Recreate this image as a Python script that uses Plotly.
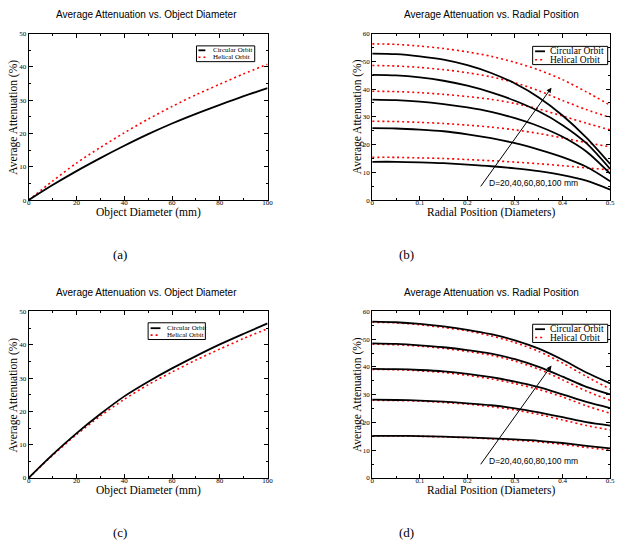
import plotly.graph_objects as go

# ---------------- data ----------------
diameter_mm = [0, 10, 20, 30, 40, 50, 60, 70, 80, 90, 100]
a_circular = [0, 4.5, 8.7, 12.6, 16.3, 19.8, 23.0, 25.9, 28.6, 31.2, 33.6]
a_helical = [0, 5.7, 11.1, 15.8, 20.2, 24.3, 28.1, 31.6, 34.8, 37.9, 40.8]
c_circular = [0, 7.0, 13.4, 19.2, 24.5, 28.9, 32.9, 36.6, 40.1, 43.3, 46.4]
c_helical = [0, 6.8, 13.0, 18.6, 23.6, 28.0, 31.8, 35.4, 38.7, 41.9, 44.8]

radial_pos = [0, 0.05, 0.1, 0.15, 0.2, 0.25, 0.3, 0.35, 0.4, 0.45, 0.5]
b_circular = {
    "D=20": [13.8, 13.8, 13.6, 13.3, 12.8, 12.2, 11.4, 10.4, 9.0, 7.0, 3.8],
    "D=40": [25.9, 25.8, 25.4, 24.8, 23.7, 22.3, 20.5, 18.2, 15.5, 12.0, 6.8],
    "D=60": [36.2, 36.0, 35.5, 34.6, 33.4, 31.8, 29.5, 26.6, 22.8, 17.5, 9.5],
    "D=80": [45.1, 44.9, 44.2, 43.0, 41.2, 38.8, 35.8, 32.0, 27.0, 20.5, 11.2],
    "D=100": [52.8, 52.6, 51.8, 50.6, 48.6, 45.8, 42.0, 37.0, 30.5, 22.5, 13.0],
}
b_helical = {
    "D=20": [15.4, 15.4, 15.2, 15.0, 14.6, 14.2, 13.7, 13.1, 12.4, 11.6, 10.9],
    "D=40": [28.4, 28.3, 28.0, 27.6, 27.0, 26.3, 25.3, 24.0, 22.4, 20.7, 19.2],
    "D=60": [39.2, 39.1, 38.7, 38.1, 37.3, 36.3, 34.8, 32.8, 30.3, 27.7, 25.3],
    "D=80": [48.5, 48.3, 47.8, 47.0, 45.9, 44.4, 42.3, 39.4, 35.9, 32.6, 29.8],
    "D=100": [56.3, 56.1, 55.5, 54.6, 53.4, 51.8, 49.6, 46.9, 43.4, 39.0, 34.2],
}
d_circular = {
    "D=20": [15.2, 15.2, 15.1, 14.9, 14.6, 14.3, 13.9, 13.4, 12.6, 11.6, 10.7],
    "D=40": [28.2, 28.1, 27.9, 27.5, 26.9, 26.2, 25.1, 23.6, 21.9, 20.1, 18.9],
    "D=60": [39.3, 39.2, 38.9, 38.4, 37.5, 36.3, 34.7, 32.7, 30.1, 27.4, 25.2],
    "D=80": [48.5, 48.3, 47.8, 47.1, 46.1, 44.8, 42.8, 40.0, 36.5, 32.8, 30.1],
    "D=100": [56.3, 56.1, 55.5, 54.6, 53.4, 51.8, 49.6, 46.6, 42.6, 38.0, 34.1],
}
d_helical = {
    "D=20": [15.1, 15.1, 15.0, 14.8, 14.5, 14.1, 13.6, 13.0, 12.1, 11.0, 10.0],
    "D=40": [28.0, 27.9, 27.7, 27.2, 26.6, 25.7, 24.5, 22.9, 20.9, 18.9, 17.3],
    "D=60": [39.1, 39.0, 38.6, 38.0, 37.0, 35.7, 34.0, 31.9, 29.2, 26.0, 23.3],
    "D=80": [48.2, 48.0, 47.5, 46.7, 45.6, 44.2, 42.1, 39.2, 35.4, 31.3, 28.0],
    "D=100": [56.1, 55.9, 55.2, 54.2, 53.0, 51.2, 48.8, 45.6, 41.4, 36.6, 32.0],
}

titles = ["Average Attenuation vs. Object Diameter", "Average Attenuation vs. Radial Position",
          "Average Attenuation vs. Object Diameter", "Average Attenuation vs. Radial Position"]
x_titles = ["Object Diameter (mm)", "Radial Position (Diameters)",
            "Object Diameter (mm)", "Radial Position (Diameters)"]
y_title = "Average Attenuation (%)"
panel_labels = ["(a)", "(b)", "(c)", "(d)"]
series_names = ["Circular Orbit", "Helical Orbit"]
arrow_text = "D=20,40,60,80,100 mm"

W, H = 627, 548
SERIF = "Liberation Serif"
SANS = "Liberation Sans"

# plot rectangles in pixels: (left, right, top, bottom)
rects = [(27, 269, 30, 199), (375, 616, 30, 199), (27, 269, 312, 481), (375, 616, 312, 481)]

fig = go.Figure()

black = dict(color="black", width=1.8)
red = dict(color="red", width=1.6, dash="2px,3px")


def add(xs, ys, idx, style, name):
    sfx = "" if idx == 0 else str(idx + 1)
    fig.add_trace(go.Scatter(x=xs, y=ys, mode="lines",
                             line=dict(shape="spline", smoothing=0.8, **style),
                             xaxis="x" + sfx, yaxis="y" + sfx, name=name, showlegend=False,
                             hoverinfo="skip"))


add(diameter_mm, a_helical, 0, red, series_names[1])
add(diameter_mm, a_circular, 0, black, series_names[0])
for k in b_helical:
    add(radial_pos, b_helical[k], 1, red, series_names[1])
for k in b_circular:
    add(radial_pos, b_circular[k], 1, black, series_names[0])
add(diameter_mm, c_helical, 2, red, series_names[1])
add(diameter_mm, c_circular, 2, black, series_names[0])
for k in d_helical:
    add(radial_pos, d_helical[k], 3, red, series_names[1])
for k in d_circular:
    add(radial_pos, d_circular[k], 3, black, series_names[0])

layout = dict(width=W, height=H, margin=dict(l=0, r=0, t=0, b=0),
              paper_bgcolor="white", plot_bgcolor="white", showlegend=False)

axis_common = dict(showline=True, linecolor="black", linewidth=1, mirror="ticks",
                   ticks="inside", ticklen=4, tickwidth=1, tickcolor="black",
                   showgrid=False, zeroline=False,
                   tickfont=dict(family=SERIF, size=7, color="black"))

for i, (l, r, t, b) in enumerate(rects):
    sfx = "" if i == 0 else str(i + 1)
    radial = i in (1, 3)
    xa = dict(axis_common, domain=[l / W, r / W], anchor="y" + sfx,
              range=[0, 0.5] if radial else [0, 100],
              dtick=0.1 if radial else 20, ticklabelstandoff=-4,
              minor=dict(ticks="inside", ticklen=2, dtick=0.05 if radial else 10,
                         tickcolor="black", showgrid=False))
    ya = dict(axis_common, domain=[1 - b / H, 1 - t / H], anchor="x" + sfx,
              range=[0, 60] if radial else [0, 50], dtick=10,
              minor=dict(ticks="inside", ticklen=2, dtick=5, tickcolor="black", showgrid=False))
    layout["xaxis" + sfx] = xa
    layout["yaxis" + sfx] = ya

fig.update_layout(**layout)

ann = []
shapes = []
for i, (l, r, t, b) in enumerate(rects):
    cx = (l + r) / 2
    # title
    ann.append(dict(x=(cx - 2) / W if i in (0, 2) else cx / W, y=1 - (t - 19) / H,
                    xref="paper", yref="paper", text=titles[i], showarrow=False,
                    font=dict(family=SANS, size=10, color="black"),
                    xanchor="center", yanchor="middle"))
    # x title
    ann.append(dict(x=cx / W, y=1 - (b + 13) / H, xref="paper", yref="paper", text=x_titles[i],
                    showarrow=False, font=dict(family=SERIF, size=11.5, color="black"),
                    xanchor="center", yanchor="middle"))
    # y title
    ann.append(dict(x=(l - 15) / W, y=1 - ((t + b) / 2) / H, xref="paper", yref="paper",
                    text=y_title, textangle=-90, showarrow=False,
                    font=dict(family=SERIF, size=11.5, color="black"),
                    xanchor="center", yanchor="middle"))
    # panel label
    ann.append(dict(x=(cx - 28 if i in (0, 2) else cx - 86) / W, y=1 - (b + 55) / H,
                    xref="paper", yref="paper", text=panel_labels[i], showarrow=False,
                    font=dict(family=SERIF, size=13, color="black"),
                    xanchor="center", yanchor="middle"))

# arrows and annotation text in (b) and (d)
for sfx in ("2", "4"):
    ann.append(dict(x=0.3767, y=40.5, ax=0.2258, ay=4.4, xref="x" + sfx, yref="y" + sfx,
                    axref="x" + sfx, ayref="y" + sfx, showarrow=True, arrowhead=2,
                    arrowsize=1, arrowwidth=1, arrowcolor="black", text=""))
    ann.append(dict(x=0.242, y=6.0, xref="x" + sfx, yref="y" + sfx, text=arrow_text,
                    showarrow=False, xanchor="left", yanchor="middle",
                    font=dict(family=SANS, size=8.5, color="black")))

# legends drawn as boxes
legends = [
    # box l, r, t, b, sample x0, x1, text x, row1 y, row2 y, font size
    (197, 256, 42.5, 58.5, 199, 206, 212, 47, 54, 7),
    (537.5, 613.5, 43, 61.5, 540, 550, 553.5, 48, 56.5, 9.5),
    (148, 206, 323.5, 340.5, 150.5, 160.5, 165, 329, 336, 7),
    (537.5, 613.5, 325, 343.5, 540, 550, 553.5, 330, 338.5, 9.5),
]
for (bl, br, bt, bb, s0, s1, tx, y1, y2, fs) in legends:
    shapes.append(dict(type="rect", xref="paper", yref="paper", x0=bl / W, x1=br / W,
                       y0=1 - bb / H, y1=1 - bt / H, line=dict(color="black", width=1),
                       fillcolor="white", layer="above"))
    shapes.append(dict(type="line", xref="paper", yref="paper", x0=s0 / W, x1=s1 / W,
                       y0=1 - y1 / H, y1=1 - y1 / H, line=dict(color="black", width=1.8),
                       layer="above"))
    shapes.append(dict(type="line", xref="paper", yref="paper", x0=s0 / W, x1=s1 / W,
                       y0=1 - y2 / H, y1=1 - y2 / H,
                       line=dict(color="red", width=1.6, dash="2px,3px"), layer="above"))
    for yy, name in ((y1, series_names[0]), (y2, series_names[1])):
        ann.append(dict(x=tx / W, y=1 - yy / H, xref="paper", yref="paper", text=name,
                        showarrow=False, xanchor="left", yanchor="middle",
                        font=dict(family=SERIF, size=fs, color="black")))

fig.update_layout(annotations=ann, shapes=shapes)
fig.write_html("out.html", config={"displayModeBar": False},
               post_script="document.body.style.margin='0';document.body.style.padding='0';")
